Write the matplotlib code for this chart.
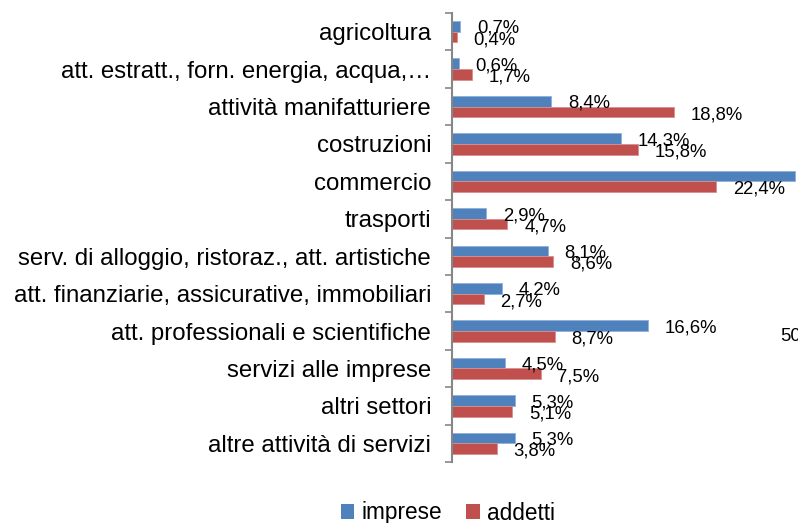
import matplotlib
matplotlib.use("Agg")
import matplotlib.pyplot as plt
from matplotlib.patches import Patch
import numpy as np

categories = [
    "agricoltura",
    "att. estratt., forn. energia, acqua,…",
    "attività manifatturiere",
    "costruzioni",
    "commercio",
    "trasporti",
    "serv. di alloggio, ristoraz., att. artistiche",
    "att. finanziarie, assicurative, immobiliari",
    "att. professionali e scientifiche",
    "servizi alle imprese",
    "altri settori",
    "altre attività di servizi",
]
imprese = [0.7, 0.6, 8.4, 14.3, 29.1, 2.9, 8.1, 4.2, 16.6, 4.5, 5.3, 5.3]
addetti = [0.4, 1.7, 18.8, 15.8, 22.4, 4.7, 8.6, 2.7, 8.7, 7.5, 5.1, 3.8]
series_names = ["imprese", "addetti"]
colors = ["#4F81BD", "#C0504D"]
stray_label = "50,0%"

plt.rcParams['font.family'] = ['Liberation Sans', 'DejaVu Sans']

W, H = 798, 523
fig = plt.figure(figsize=(W / 100, H / 100), dpi=100)
ax = fig.add_axes([452 / W, 1 - 462 / H, 1 - 452 / W, 449 / H])

n = len(categories)
y = np.arange(n)
bh = 0.285
ax.barh(y - bh / 2, imprese, height=bh, color=colors[0], edgecolor="#8EB0DC", linewidth=0.6)
ax.barh(y + bh / 2, addetti, height=bh, color=colors[1], edgecolor="#DA8F8D", linewidth=0.6)

def fmt(v):
    return f"{v:.1f}%".replace(".", ",")

for i in range(n):
    if categories[i] != "commercio":
        ax.annotate(fmt(imprese[i]), (imprese[i], y[i] - bh / 2), xytext=(12, -1.5),
                    textcoords="offset points", va="center", ha="left", fontsize=13.3,
                    annotation_clip=False)
    ax.annotate(fmt(addetti[i]), (addetti[i], y[i] + bh / 2), xytext=(12, -2),
                textcoords="offset points", va="center", ha="left", fontsize=13.3,
                annotation_clip=False)

# stray label of the clipped commercio bar, as in the reference
fig.text(780 / W, 1 - 336 / H, stray_label, fontsize=13.3, va="center", ha="left")

ax.set_xlim(0, 346 / 11.8)
ax.set_ylim(n - 0.5, -0.5)

ax.set_yticks(y)
ax.set_yticklabels(categories, fontsize=17.3)
ax.set_yticks(np.arange(n + 1) - 0.5, minor=True)
ax.tick_params(axis="y", which="major", length=0, pad=15)
ax.tick_params(axis="y", which="minor", length=5, width=1.2, color="#868686")
ax.set_xticks([])

for s in ["top", "right", "bottom"]:
    ax.spines[s].set_visible(False)
ax.spines["left"].set_color("#868686")
ax.spines["left"].set_linewidth(1.5)

handles = [Patch(facecolor=c, edgecolor="none") for c in colors]
fig.legend(handles, series_names, loc="center", bbox_to_anchor=(448 / W, 1 - 513 / H),
           ncol=2, frameon=False, fontsize=16.3, handlelength=0.6, handleheight=0.6,
           handletextpad=0.33, columnspacing=1.05)

fig.savefig("out.png", dpi=100)
